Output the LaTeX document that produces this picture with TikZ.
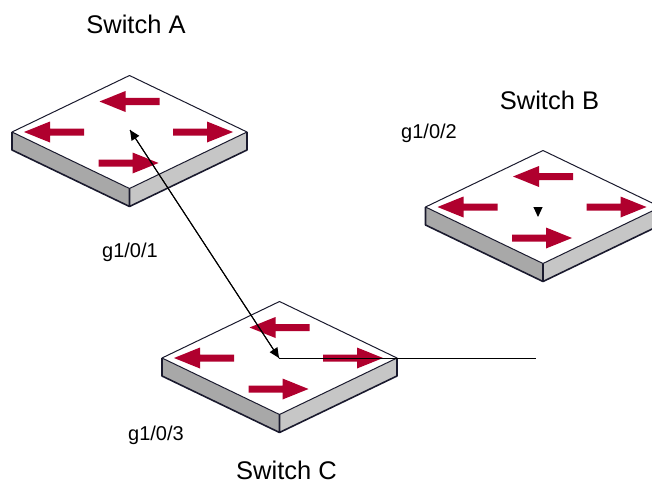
\documentclass[tikz,border=0pt]{standalone}
\usepackage{fontspec}
\setmainfont{Liberation Sans}
\usetikzlibrary{arrows.meta}

\definecolor{portred}{RGB}{176,0,46}
\definecolor{sidedark}{RGB}{168,168,168}
\definecolor{sidelight}{RGB}{198,198,198}
\definecolor{edgeblue}{RGB}{26,26,46}

\tikzset{
    title/.style={font=\fontsize{25.5}{30}\selectfont,anchor=base,inner sep=0pt},
    port/.style={font=\fontsize{20}{24}\selectfont,anchor=base,inner sep=0pt},
    link/.style={line width=1pt,black},
    tip/.style={-{Triangle[length=10pt,width=9pt]}},
    redarrow/.pic={
        \fill[portred] (-30,0) -- (-4,-10.5) -- (-4,-3.5) -- (30,-3.5) --
            (30,3.5) -- (-4,3.5) -- (-4,10.5) -- cycle;
    },
    switchbox/.pic={
        \fill[sidedark] (-117.5,0) -- (0,56.5) -- (0,74.5) -- (-117.5,18) -- cycle;
        \fill[sidelight] (117.5,0) -- (0,56.5) -- (0,74.5) -- (117.5,18) -- cycle;
        \draw[edgeblue,line width=1.6pt,line join=round]
            (-117.5,0) -- (-117.5,18) -- (0,74.5) -- (117.5,18) -- (117.5,0)
            (0,56.5) -- (0,74.5);
        \filldraw[fill=white,draw=edgeblue,line width=1pt,line join=round]
            (0,-56.5) -- (117.5,0) -- (0,56.5) -- (-117.5,0) -- cycle;
        \pic at (0,-30.5) {redarrow};
        \pic at (-75.5,0) {redarrow};
        \pic[xscale=-1] at (73.5,0) {redarrow};
        \pic[xscale=-1] at (-1,31) {redarrow};
    },
}

\begin{document}
\begin{tikzpicture}[x=1pt,y=-1pt]
    \clip (0,0) rectangle (652,484);

    % switches, named by the centre of the top face
    \coordinate (A) at (129.5,132);
    \coordinate (B) at (543,207);
    \coordinate (C) at (279.5,358);
    \pic at (A) {switchbox};
    \pic at (B) {switchbox};
    \pic at (C) {switchbox};

    \node[title] (tA) at (136,34) {Switch A};
    \node[title] (tB) at (549.5,110) {Switch B};
    \node[title] (tC) at (286.5,479) {Switch C};

    \node[port] (p1) at (130,257) {g1/0/1};
    \node[port] (p2) at (429,138) {g1/0/2};
    \node[port] (p3) at (156,440) {g1/0/3};

    % links
    \coordinate (Aend) at (130,130);
    \coordinate (Cend) at (279,358);
    \coordinate (Cout) at (536,358);
    \coordinate (Btop) at (538,207);
    \coordinate (Btip) at (538,217);
    \draw[link,tip] (Cend) -- (Aend);
    \draw[link,tip] (Aend) -- (Cend);
    \draw[link] (Cend) -- (Cout);
    \draw[link,tip] (Btop) -- (Btip);
\end{tikzpicture}
\end{document}
